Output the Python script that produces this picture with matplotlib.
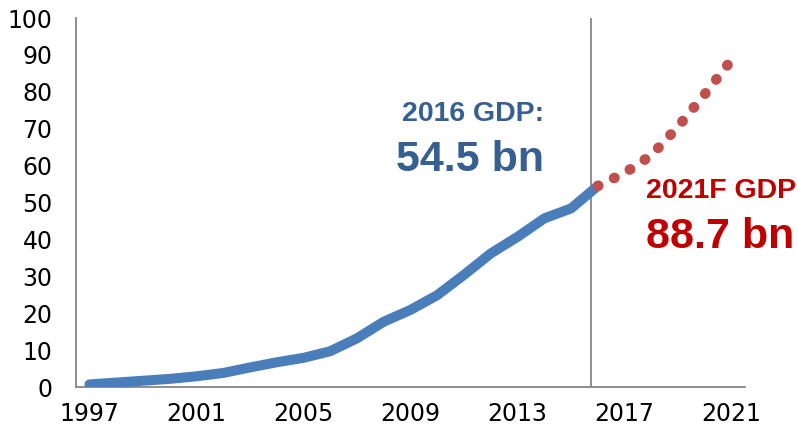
import numpy as np
import matplotlib
matplotlib.use("Agg")
import matplotlib.pyplot as plt

# GDP, bn
years = list(range(1997, 2022))
actual_years = list(range(1997, 2017))
actual_gdp = [0.7, 1.2, 1.7, 2.2, 2.9, 3.8, 5.3, 6.7, 7.9, 9.7, 13.2, 17.7, 20.9,
              24.9, 30.4, 36.2, 40.7, 45.7, 48.4, 54.5]
forecast_years = [2016, 2017, 2018, 2019, 2020, 2021]
forecast_gdp = [54.5, 58.0, 62.8, 70.6, 79.4, 88.7]
tick_years = years[::4]

BLUE = "#4A7EBB"; RED = "#C0504D"; GREY = "#868686"
pos = {y: i for i, y in enumerate(years)}

fig = plt.figure(figsize=(7.97, 4.37), dpi=100)
ax = fig.add_axes([0.0954, 0.1144, 0.8394, 0.8444])

ax.plot([pos[y] for y in actual_years], actual_gdp, color=BLUE, lw=7.2,
        solid_capstyle="round", solid_joinstyle="round", zorder=3)
ax.plot([pos[y] for y in forecast_years], forecast_gdp, color=RED, lw=7.6,
        linestyle=(0, (0.05, 1.65)), dash_capstyle="round", zorder=4)
# divider between history and forecast
ax.axvline(pos[2016] - 0.25, 0, 1, color=GREY, lw=1.3, zorder=2)

ax.set_xlim(-0.5, len(years) - 0.5)
ax.set_ylim(0, 100)
ax.set_yticks(np.arange(0, 101, 10))
ax.set_xticks([pos[y] for y in tick_years])
ax.set_xticklabels([str(y) for y in tick_years])
ax.tick_params(length=0, labelsize=17, colors="#000000")
ax.tick_params(axis="y", pad=17)
ax.tick_params(axis="x", pad=11)
for s in ["top", "right"]:
    ax.spines[s].set_visible(False)
for s in ["left", "bottom"]:
    ax.spines[s].set_color(GREY); ax.spines[s].set_linewidth(1.3)

f = "Liberation Sans"
ax.text(pos[2014], 72.1, "2016 GDP:", color="#366092", fontsize=20.5, fontweight="bold",
        family=f, ha="right", va="baseline")
ax.text(pos[2014], 58.5, "54.5 bn", color="#366092", fontsize=31, fontweight="bold",
        family=f, ha="right", va="baseline")
ax.text(20.8, 51.2, "2021F GDP", color="#C00000", fontsize=20.5, fontweight="bold",
        family=f, ha="left", va="baseline")
ax.text(20.8, 37.7, "88.7 bn", color="#C00000", fontsize=31, fontweight="bold",
        family=f, ha="left", va="baseline")

fig.savefig("out.png", dpi=100)
